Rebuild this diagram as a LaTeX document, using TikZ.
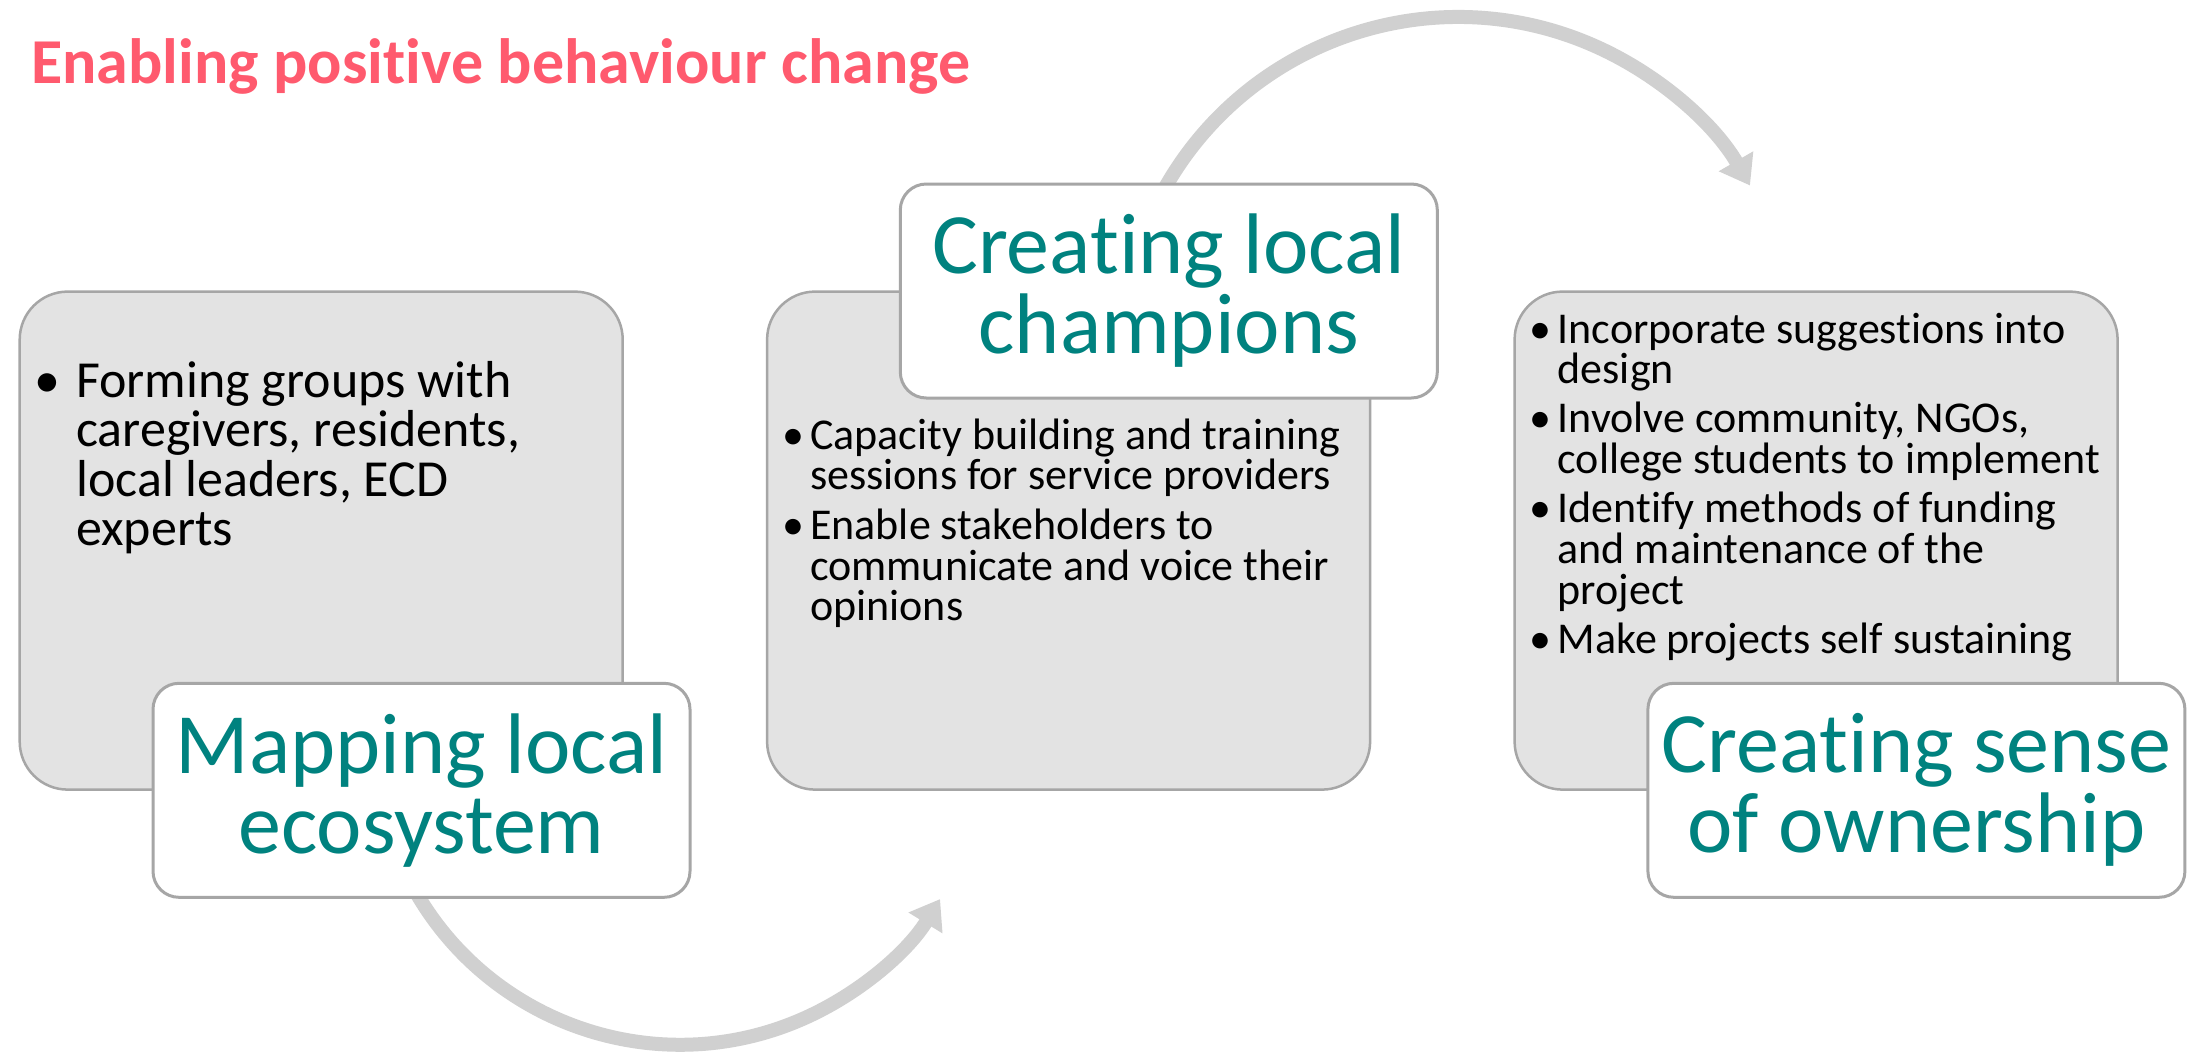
\documentclass[tikz,border=0pt]{standalone}
\usepackage{fontspec}
\setmainfont{Carlito}[Ligatures={NoCommon}]
\usetikzlibrary{arrows.meta}
\definecolor{titlered}{HTML}{FF5A6E}
\definecolor{tealtxt}{HTML}{00827F}
\definecolor{boxgray}{HTML}{E3E3E3}
\definecolor{edgegray}{HTML}{A6A6A6}
\definecolor{arrowgray}{HTML}{D0D0D0}
\newlength{\bulind}
\newcommand{\bitem}[1]{\noindent\hangindent=\bulind\hangafter=1\makebox[\bulind][l]{•}#1\par}
\newcommand{\natspaces}{\spaceskip=0pt\relax\xspaceskip=0pt\relax}
\tikzset{
  graybox/.style={draw=edgegray, line width=2.5pt, fill=boxgray, rounded corners=48pt,
    minimum width=603pt, minimum height=498pt, inner sep=0pt},
  whitebox/.style={draw=edgegray, line width=3pt, fill=white, rounded corners=26pt,
    minimum width=537pt, minimum height=214pt, inner sep=0pt, text=tealtxt,
    align=center, font=\fontsize{86}{80}\selectfont},
  bodytext/.style={anchor=base west, inner sep=0pt, text width=#1, align=left},
  bigarrow/.style={draw=arrowgray, line width=14pt, -{Triangle[width=38pt,length=28pt]}},
}
\begin{document}
\begin{tikzpicture}[x=1pt,y=-1pt]
\useasboundingbox (0,0) rectangle (2199,1054);
\fill[white] (0,0) rectangle (2199,1054);

% arrows (drawn first, their starts hidden under the white boxes)
\coordinate (a1s) at (403.6,868.6);
\coordinate (a2s) at (1152.7,211.6);
\draw[bigarrow] (a1s) arc[start angle=155, end angle=31.5, radius=305];
\draw[bigarrow] (a2s) arc[start angle=-155, end angle=-30, radius=337];

% gray boxes
\node[graybox] (g1) at (321.2,540.6) {};
\node[graybox] (g2) at (1068.6,540.6) {};
\node[graybox] (g3) at (1816.1,540.6) {};

% white boxes
\node[whitebox] (w1) at (421.5,790.3) {Mapping local\\ecosystem};
\node[whitebox] (w2) at (1168.8,291) {Creating local\\champions};
\node[whitebox] (w3) at (1916.4,790.3) {Creating sense\\of ownership};

% title
\node[anchor=base west, inner sep=0pt, text=titlered, font=\bfseries\fontsize{64}{72}\selectfont] (title) at (31,84) {Enabling positive behaviour change};

% body texts
\node[bodytext=580pt] (t1) at (34,397) {\fontsize{52}{49.5}\selectfont\natspaces\setlength{\bulind}{42pt}\setlength{\parskip}{0pt}%
\bitem{Forming groups with\newline caregivers, residents,\newline local leaders, ECD\newline experts}};

\node[bodytext=580pt] (t2) at (782,449) {\fontsize{44}{40.7}\selectfont\natspaces\setlength{\bulind}{28pt}\setlength{\parskip}{9pt}%
\bitem{Capacity building and training\newline sessions for service providers}
\bitem{Enable stakeholders to\newline communicate and voice their\newline opinions}};

\node[bodytext=580pt] (t3) at (1529.5,343) {\fontsize{44}{40.7}\selectfont\natspaces\setlength{\bulind}{28pt}\setlength{\parskip}{8.4pt}%
\bitem{Incorporate suggestions into\newline design}
\bitem{Involve community, NGOs,\newline college students to implement}
\bitem{Identify methods of funding\newline and maintenance of the\newline project}
\bitem{Make projects self sustaining}};
\end{tikzpicture}
\end{document}
